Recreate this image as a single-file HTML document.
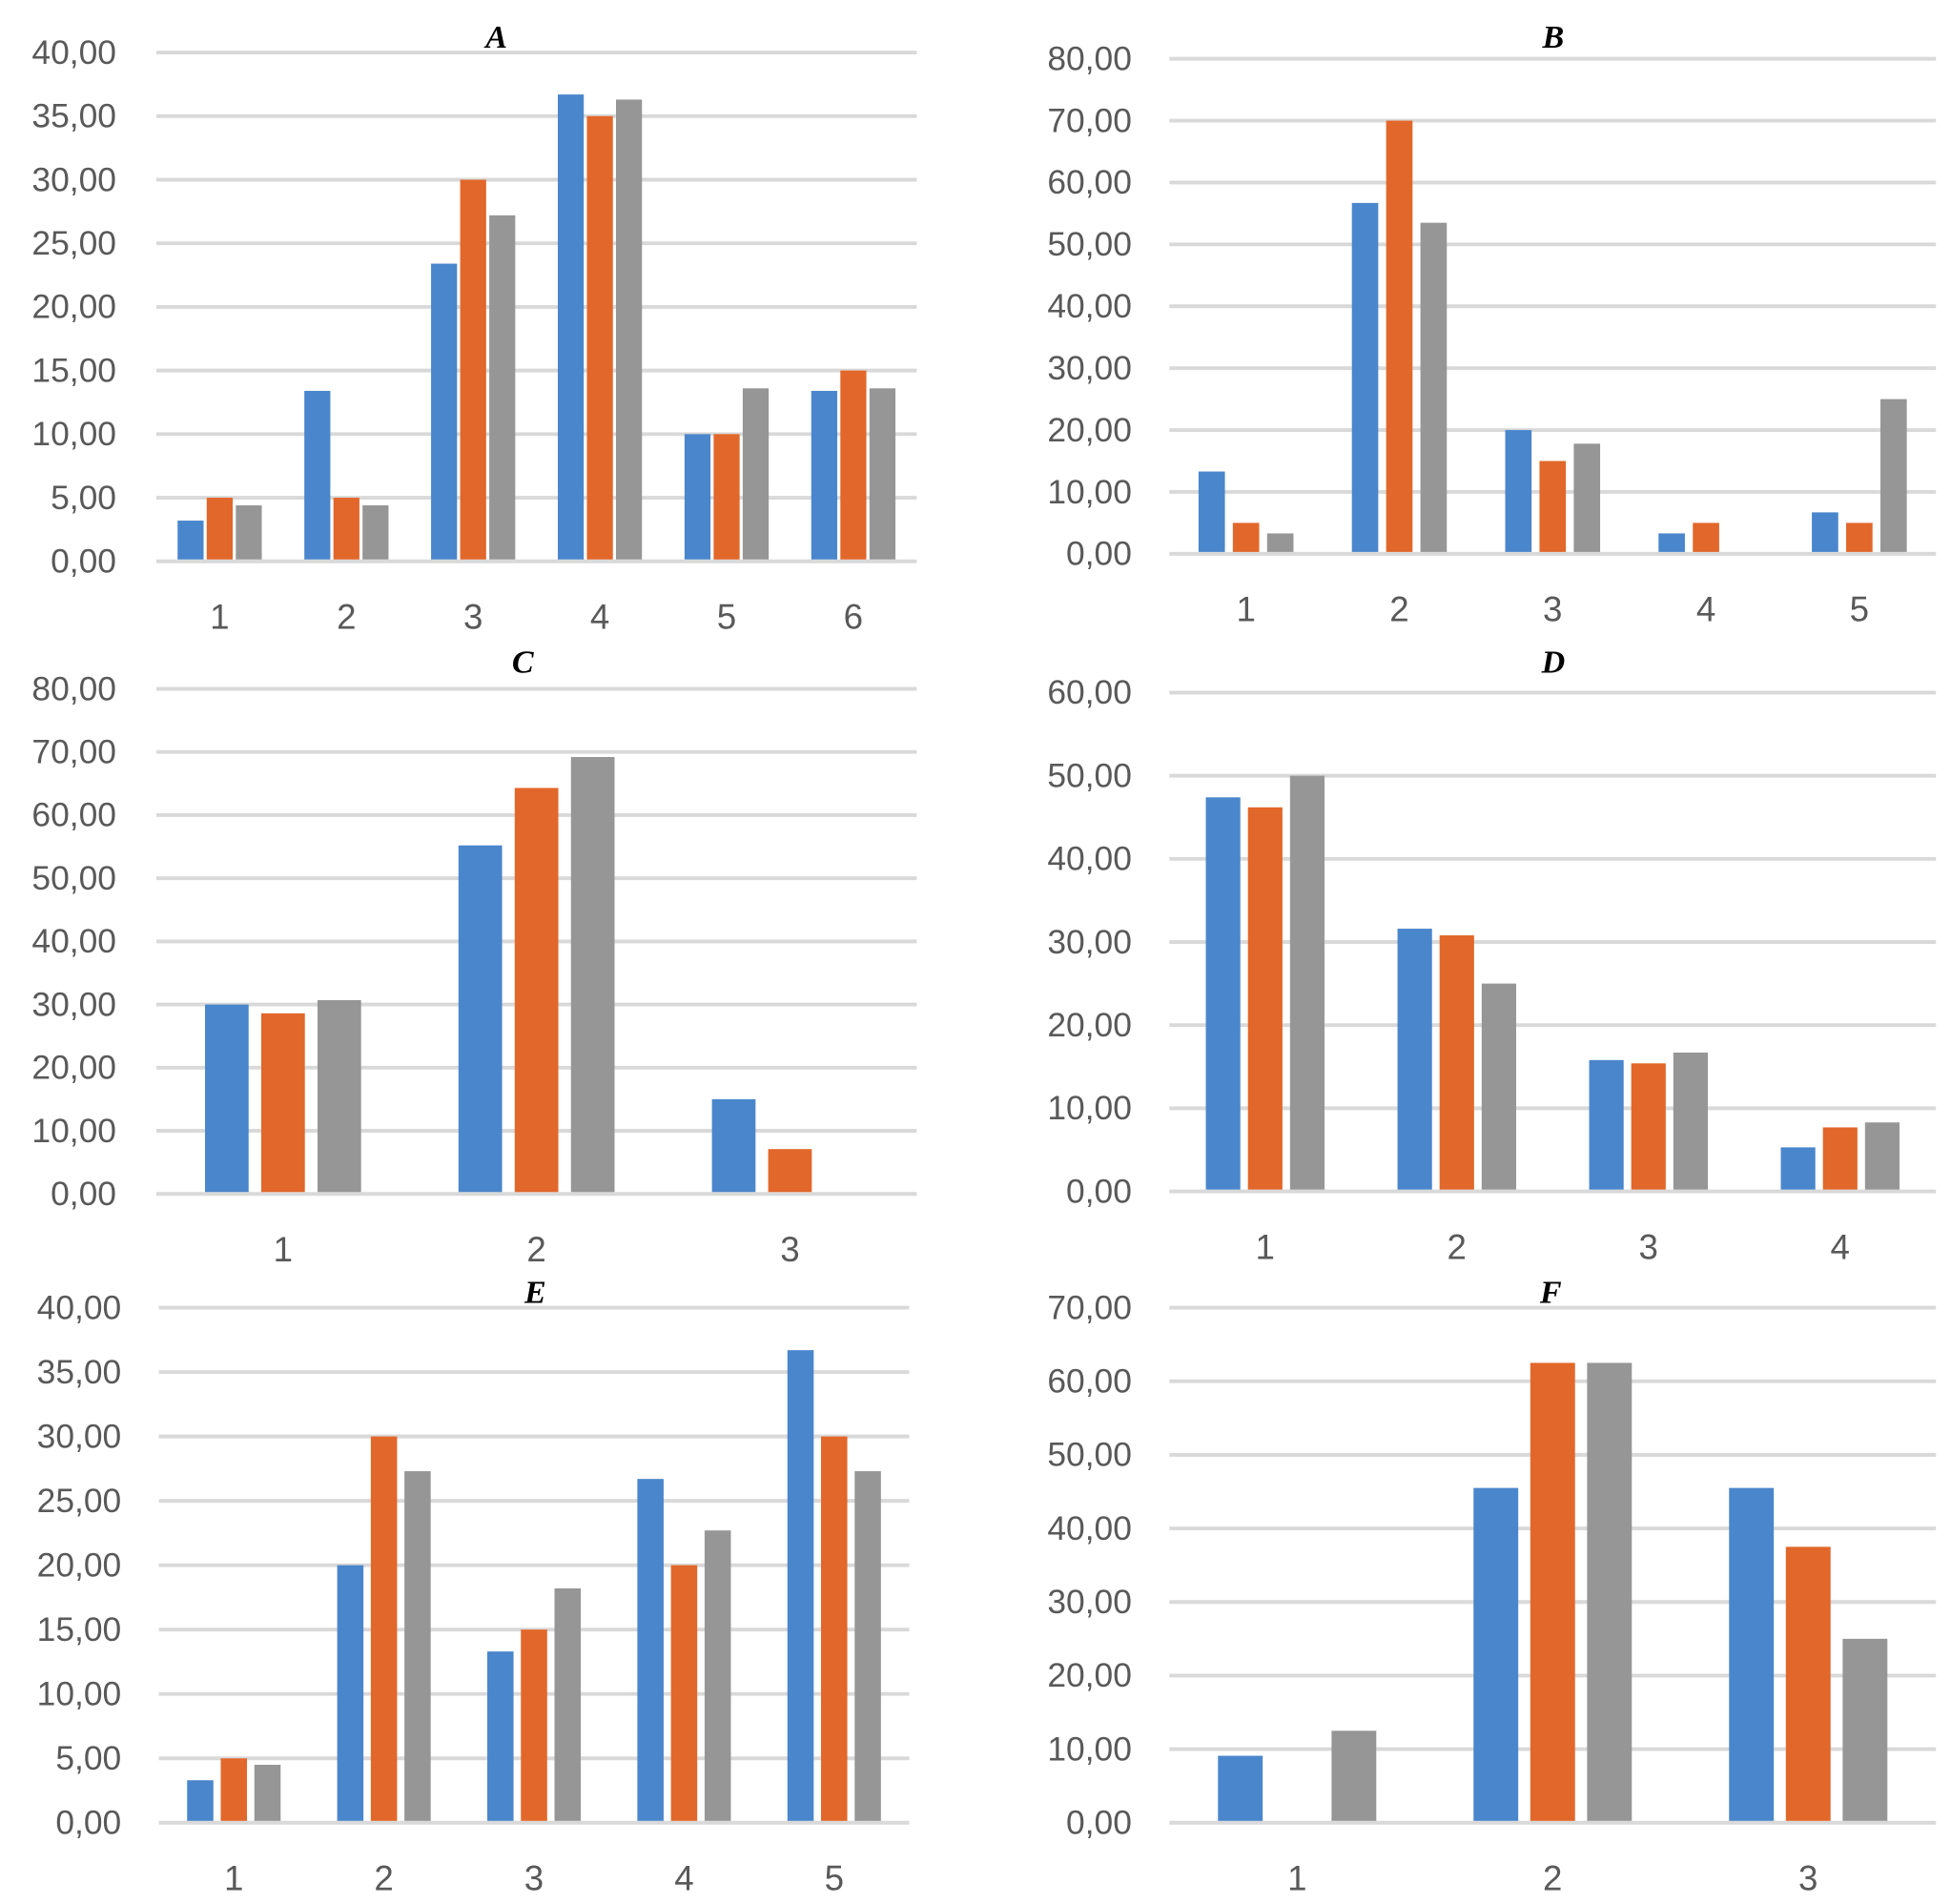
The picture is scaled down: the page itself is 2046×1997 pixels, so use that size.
<!DOCTYPE html>
<html><head><meta charset="utf-8"><style>
html,body{margin:0;padding:0;background:#fff;}
svg{display:block;}
</style></head><body>
<svg id="fig" width="2046" height="1997" viewBox="0 0 1560 1523" preserveAspectRatio="none" xmlns="http://www.w3.org/2000/svg"></svg>
<script>
const colors = ['#4a86cc','#e2672a','#969696'];
const aCats = [1,2,3,4,5,6];
const aS1 = [3.2,13.4,23.4,36.7,10,13.4];
const aS2 = [5,5,30,35,10,15];
const aS3 = [4.4,4.4,27.2,36.3,13.6,13.6];
const aTicks = [0,5,10,15,20,25,30,35,40];
const bCats = [1,2,3,4,5];
const bS1 = [13.3,56.7,20,3.3,6.7];
const bS2 = [5,70,15,5,5];
const bS3 = [3.3,53.5,17.8,0,25];
const bTicks = [0,10,20,30,40,50,60,70,80];
const cCats = [1,2,3];
const cS1 = [30,55.2,15];
const cS2 = [28.6,64.3,7.1];
const cS3 = [30.7,69.2,0];
const cTicks = [0,10,20,30,40,50,60,70,80];
const dCats = [1,2,3,4];
const dS1 = [47.4,31.6,15.8,5.3];
const dS2 = [46.2,30.8,15.4,7.7];
const dS3 = [50,25,16.7,8.3];
const dTicks = [0,10,20,30,40,50,60];
const eCats = [1,2,3,4,5];
const eS1 = [3.3,20,13.3,26.7,36.7];
const eS2 = [5,30,15,20,30];
const eS3 = [4.5,27.3,18.2,22.7,27.3];
const eTicks = [0,5,10,15,20,25,30,35,40];
const fCats = [1,2,3];
const fS1 = [9.1,45.5,45.5];
const fS2 = [0,62.5,37.5];
const fS3 = [12.5,62.5,25];
const fTicks = [0,10,20,30,40,50,60,70];

const NS='http://www.w3.org/2000/svg';
const svg=document.getElementById('fig');
function mk(tag,attrs,parent){const e=document.createElementNS(NS,tag);for(const k in attrs)e.setAttribute(k,attrs[k]);parent.appendChild(e);return e;}

function chart(id,title,cats,series,ticks,L){
  const g=mk('g',{},svg);
  
  
  const max=ticks[ticks.length-1];
  const y=v=>L.y0-(v/max)*(L.y0-L.yTop);
  const cw=(L.x1-L.x0)/cats.length;
  const x=i=>L.x0+cw*(i+0.5);
  ticks.forEach(t=>{
    const ln=mk('line',{x1:L.x0,x2:L.x1,y1:y(t),y2:y(t),stroke:'#d9d9d9','stroke-width':3},g);
    
    
    const tx=mk('text',{x:L.lx,y:y(t)+9,'text-anchor':'end','font-size':27,fill:'#595959','font-family':'Liberation Sans, sans-serif'},g);
    tx.textContent=t.toFixed(2).replace('.',',');
    
    
  });
  const bw=cw*L.bf, sp=bw*L.sf;
  series.forEach((s,si)=>{
    s.forEach((v,i)=>{
      if(v<=0)return;
      const cx=x(i)+(si-1)*sp;
      const r=mk('rect',{x:cx-bw/2,y:y(v),width:bw,height:y(0)-y(v)-1.5,fill:colors[si]},g);
      
      
    });
  });
  cats.forEach((c,i)=>{
    const tx=mk('text',{x:x(i),y:L.y0+54,'text-anchor':'middle','font-size':28,fill:'#595959','font-family':'Liberation Sans, sans-serif'},g);
    tx.textContent=c;
    
    
  });
  const tt=mk('text',{x:L.tx,y:L.ty,'text-anchor':'middle','font-size':26,'font-style':'italic','font-weight':'bold',fill:'#000','font-family':'Liberation Serif, serif'},g);
  tt.textContent=title;
  
  
}
chart('a','A',aCats,[aS1,aS2,aS3],aTicks,{x0:125,x1:733,yTop:42,y0:449,lx:93,bf:0.205,sf:1.12,tx:397,ty:38});
chart('b','B',bCats,[bS1,bS2,bS3],bTicks,{x0:935,x1:1548,yTop:47,y0:443,lx:905,bf:0.172,sf:1.3,tx:1242,ty:38});
chart('c','C',cCats,[cS1,cS2,cS3],cTicks,{x0:125,x1:733,yTop:551,y0:955,lx:93,bf:0.172,sf:1.29,tx:418,ty:538});
chart('d','D',dCats,[dS1,dS2,dS3],dTicks,{x0:935,x1:1548,yTop:554,y0:953,lx:905,bf:0.18,sf:1.22,tx:1242,ty:538});
chart('e','E',eCats,[eS1,eS2,eS3],eTicks,{x0:127,x1:727,yTop:1046,y0:1458,lx:97,bf:0.175,sf:1.28,tx:428,ty:1042});
chart('f','F',fCats,[fS1,fS2,fS3],fTicks,{x0:935,x1:1548,yTop:1046,y0:1458,lx:905,bf:0.175,sf:1.27,tx:1240,ty:1042});
</script>
</body></html>
